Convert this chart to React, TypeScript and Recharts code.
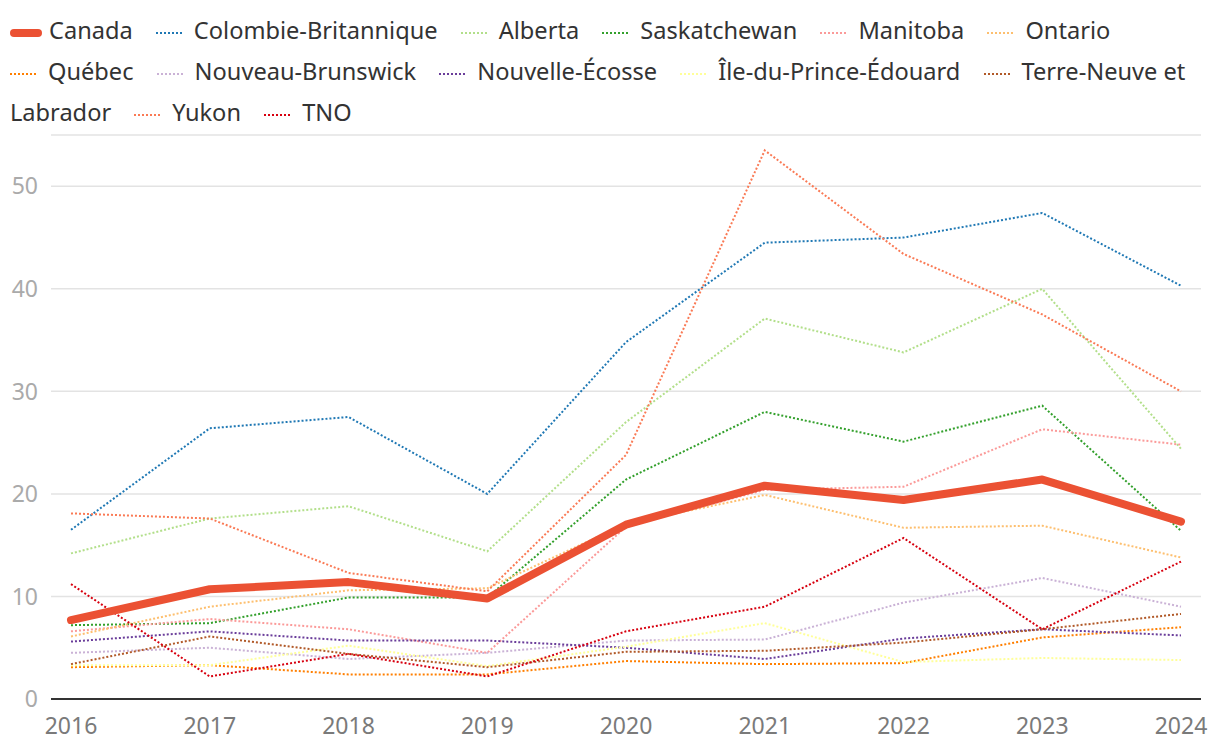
import { LineChart, Line, XAxis, YAxis, CartesianGrid } from "recharts";

const years = ["2016", "2017", "2018", "2019", "2020", "2021", "2022", "2023", "2024"];

const canada = [7.7, 10.7, 11.4, 9.8, 17.0, 20.8, 19.4, 21.4, 17.3];
const colombieBritannique = [16.5, 26.4, 27.5, 20.0, 34.8, 44.5, 45.0, 47.4, 40.3];
const alberta = [14.2, 17.6, 18.8, 14.4, 27.0, 37.1, 33.8, 40.0, 24.4];
const saskatchewan = [7.2, 7.4, 9.9, 9.9, 21.4, 28.0, 25.1, 28.6, 16.4];
const manitoba = [6.6, 7.8, 6.8, 4.5, 16.8, 20.4, 20.7, 26.3, 24.8];
const ontario = [6.1, 9.0, 10.6, 10.8, 17.1, 19.9, 16.7, 16.9, 13.8];
const quebec = [3.1, 3.3, 2.4, 2.4, 3.7, 3.4, 3.5, 6.0, 7.0];
const nouveauBrunswick = [4.5, 5.0, 3.9, 4.5, 5.7, 5.8, 9.4, 11.8, 9.0];
const nouvelleEcosse = [5.6, 6.6, 5.7, 5.7, 5.0, 3.9, 5.9, 6.8, 6.2];
const ipe = [3.3, 3.3, 5.2, 3.2, 5.1, 7.4, 3.6, 4.0, 3.8];
const terreNeuve = [3.4, 6.1, 4.4, 3.1, 4.6, 4.7, 5.5, 6.8, 8.3];
const yukon = [18.1, 17.6, 12.3, 10.5, 23.8, 53.5, 43.4, 37.5, 30.0];
const tno = [11.2, 2.2, 4.4, 2.2, 6.6, 9.0, 15.7, 6.8, 13.4];

const yTicks = [0, 10, 20, 30, 40, 50];

// legend order
const series = [
  { key: "canada", name: "Canada", color: "#eb5133", values: canada },
  { key: "cb", name: "Colombie-Britannique", color: "#1f78b4", values: colombieBritannique },
  { key: "ab", name: "Alberta", color: "#b2df8a", values: alberta },
  { key: "sk", name: "Saskatchewan", color: "#33a02c", values: saskatchewan },
  { key: "mb", name: "Manitoba", color: "#fb9a99", values: manitoba },
  { key: "on", name: "Ontario", color: "#fdbf6f", values: ontario },
  { key: "qc", name: "Québec", color: "#ff7f00", values: quebec },
  { key: "nb", name: "Nouveau-Brunswick", color: "#cab2d6", values: nouveauBrunswick },
  { key: "ne", name: "Nouvelle-Écosse", color: "#6a3d9a", values: nouvelleEcosse },
  { key: "ipe", name: "Île-du-Prince-Édouard", color: "#ffff99", values: ipe },
  { key: "tnl", name: "Terre-Neuve et Labrador", color: "#b15928", values: terreNeuve },
  { key: "yk", name: "Yukon", color: "#fa7a55", values: yukon },
  { key: "tno", name: "TNO", color: "#d7000f", values: tno },
];

const data = years.map((year, i) => {
  const row: Record<string, string | number> = { year };
  series.forEach((s) => {
    row[s.key] = s.values[i];
  });
  return row;
});

const FONT = "'Noto Sans', sans-serif";
const GAP = 17; // plus the space char ≈ 23px between items

const LegendBlock = () => (
  <div
    style={{
      position: "absolute",
      left: 10,
      top: 10,
      width: 1200,
      fontFamily: FONT,
      fontSize: 23.6,
      lineHeight: "41px",
      color: "#333",
    }}
  >
    {series.map((s) => {
      const words = s.name.split(" ");
      // only a multi-word name may wrap before its last word
      const head = words.length > 2 ? words.slice(0, -1).join(" ") : s.name;
      const tail = words.length > 2 ? words[words.length - 1] : "";
      const isNat = s.key === "canada";
      return (
        <span key={s.key}>
          <span style={{ whiteSpace: "nowrap" }}>
            <svg
              width={isNat ? 32 : 28}
              height={10}
              style={{ verticalAlign: "middle", marginRight: isNat ? 7 : 10, display: "inline-block" }}
            >
              {isNat ? (
                <line x1={4} y1={5} x2={28} y2={5} stroke={s.color} strokeWidth={8} strokeLinecap="round" />
              ) : (
                <line x1={0} y1={5} x2={28} y2={5} stroke={s.color} strokeWidth={2} strokeDasharray="2 2" />
              )}
            </svg>
            <span style={{ marginRight: tail ? 0 : GAP }}>{head}</span>
          </span>
          {tail ? <span style={{ marginRight: GAP }}>{" " + tail}</span> : null}
          {" "}
        </span>
      );
    })}
  </div>
);

export default function App() {
  const provinces = series.filter((s) => s.key !== "canada");
  const nat = series[0];
  return (
    <div style={{ position: "absolute", left: 0, top: 0, width: 1220, height: 750, background: "#fff" }}>
      <LineChart
        width={1220}
        height={750}
        data={data}
        margin={{ top: 135, right: 19, bottom: 21, left: 11 }}
        style={{ fontFamily: FONT }}
      >
        <CartesianGrid vertical={false} stroke="#e3e3e3" strokeWidth={1.5} />
        <XAxis
          dataKey="year"
          padding={{ left: 20, right: 20 }}
          axisLine={{ stroke: "#333", strokeWidth: 2 }}
          tickLine={false}
          tick={{ fill: "#7a7a7a", fontSize: 23 }}
          tickMargin={13}
          height={30}
        />
        <YAxis
          domain={[0, 55]}
          ticks={yTicks}
          axisLine={false}
          tickLine={false}
          tick={{ fill: "#aaa", fontSize: 23 }}
          tickMargin={7}
          width={40}
        />
        {provinces.map((s) => (
          <Line
            key={s.key}
            type="linear"
            dataKey={s.key}
            name={s.name}
            stroke={s.color}
            strokeWidth={2}
            strokeDasharray="2 2"
            dot={false}
            activeDot={false}
            isAnimationActive={false}
          />
        ))}
        <Line
          type="linear"
          dataKey={nat.key}
          name={nat.name}
          stroke={nat.color}
          strokeWidth={8}
          strokeLinecap="round"
          strokeLinejoin="round"
          dot={false}
          activeDot={false}
          isAnimationActive={false}
        />
      </LineChart>
      <LegendBlock />
    </div>
  );
}
